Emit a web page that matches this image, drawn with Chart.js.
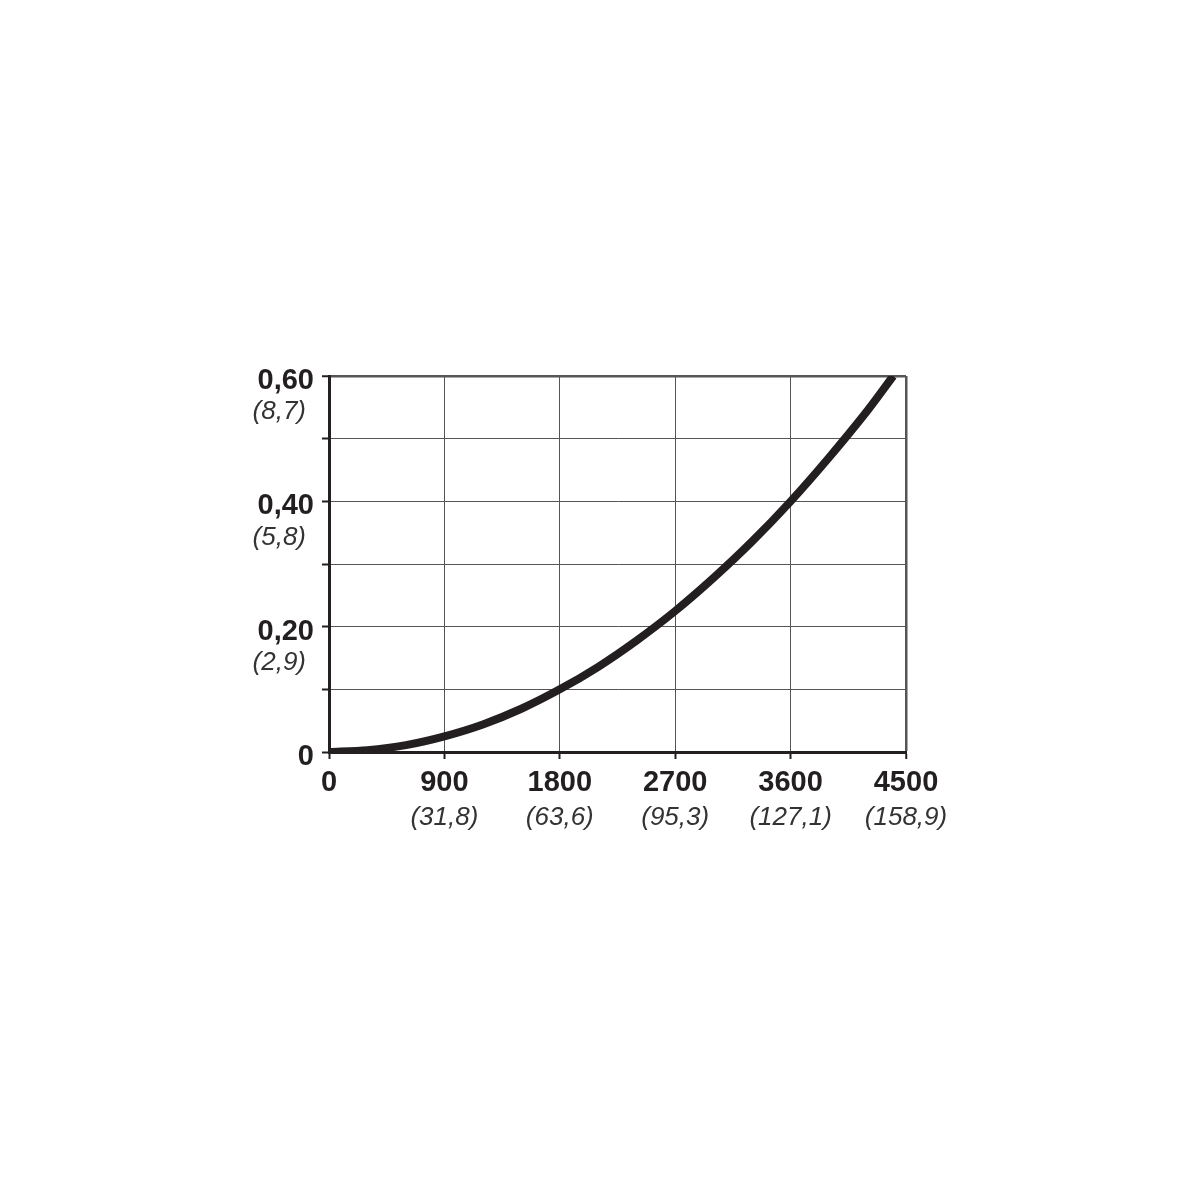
<!DOCTYPE html>
<html>
<head>
<meta charset="utf-8">
<script src="https://cdn.jsdelivr.net/npm/chart.js@4.4.1/dist/chart.umd.min.js"></script>
<style>
  body { margin: 0; background: #fff; }
  #wrap { width: 1200px; height: 1200px; }
</style>
</head>
<body>
<div id="wrap"><canvas id="chart" width="1200" height="1200"></canvas></div>
<script>
// Curve
const flowValues = [0, 300, 600, 900, 1200, 1500, 1800, 2100, 2400, 2700, 3000, 3300, 3600, 3900, 4200, 4400];
const lossValues = [0, 0.003, 0.011, 0.025, 0.044, 0.069, 0.1, 0.136, 0.178, 0.225, 0.278, 0.336, 0.4, 0.47, 0.545, 0.6];

// Axis labels (main bold + secondary italic)
const xTickValues = [0, 900, 1800, 2700, 3600, 4500];
const xTickLabels = ['0', '900', '1800', '2700', '3600', '4500'];
const xSubLabels = ['', '(31,8)', '(63,6)', '(95,3)', '(127,1)', '(158,9)'];
const yTickValues = [0, 0.2, 0.4, 0.6];
const yTickLabels = ['0', '0,20', '0,40', '0,60'];
const ySubLabels = ['', '(2,9)', '(5,8)', '(8,7)'];

const INK = '#231f20';
const FONT = '"Liberation Sans", Arial, sans-serif';

// Draws the two-level tick labels through the chart's own scales
const labelPlugin = {
  id: 'labels',
  afterDraw(chart) {
    const ctx = chart.ctx;
    const xs = chart.scales.x;
    const ys = chart.scales.y;
    ctx.save();
    ctx.textBaseline = 'middle';

    ctx.textAlign = 'right';
    yTickValues.forEach((v, i) => {
      const py = ys.getPixelForValue(v);
      ctx.fillStyle = INK;
      ctx.font = 'bold 29px ' + FONT;
      ctx.fillText(yTickLabels[i], 314, py + 5);
      if (ySubLabels[i]) {
        ctx.fillStyle = '#333';
        ctx.font = 'italic 26px ' + FONT;
        ctx.fillText(ySubLabels[i], 306, py + 36);
      }
    });

    ctx.textAlign = 'center';
    xTickValues.forEach((v, i) => {
      const px = xs.getPixelForValue(v);
      ctx.fillStyle = INK;
      ctx.font = 'bold 29px ' + FONT;
      ctx.fillText(xTickLabels[i], px, xs.bottom + 24);
      if (xSubLabels[i]) {
        ctx.fillStyle = '#333';
        ctx.font = 'italic 26px ' + FONT;
        ctx.fillText(xSubLabels[i], px, xs.bottom + 59);
      }
    });
    ctx.restore();
  }
};

new Chart(document.getElementById('chart'), {
  type: 'line',
  data: {
    datasets: [{
      data: flowValues.map((x, i) => ({ x: x, y: lossValues[i] })),
      borderColor: INK,
      borderWidth: 8,
      pointRadius: 0,
      tension: 0.3,
      fill: false
    }]
  },
  options: {
    responsive: false,
    animation: false,
    layout: { padding: { left: 322, right: 294, top: 376, bottom: 441 } },
    plugins: { legend: { display: false }, tooltip: { enabled: false } },
    scales: {
      x: {
        type: 'linear',
        min: 0,
        max: 4500,
        ticks: { stepSize: 900, display: false },
        grid: {
          color: '#555',
          lineWidth: c => (c.tick && c.tick.value === 4500 ? 2.5 : 1),
          tickLength: 7,
          tickColor: INK,
          tickWidth: 2
        },
        border: { color: INK, width: 3 }
      },
      y: {
        min: 0,
        max: 0.6,
        ticks: { stepSize: 0.1, display: false },
        grid: {
          color: '#555',
          lineWidth: c => (c.tick && Math.abs(c.tick.value - 0.6) < 1e-6 ? 2.5 : 1),
          tickLength: 7,
          tickColor: INK,
          tickWidth: 2
        },
        border: { color: INK, width: 3 }
      }
    }
  },
  plugins: [labelPlugin]
});
</script>
</body>
</html>
